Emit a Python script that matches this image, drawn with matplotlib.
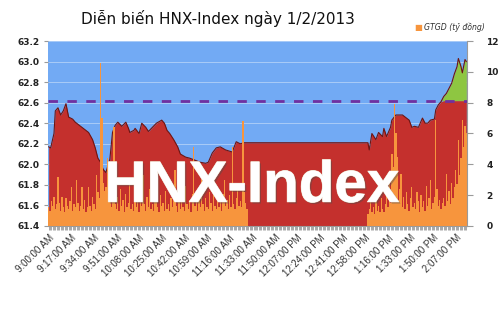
import numpy as np
import matplotlib.pyplot as plt
import matplotlib.patheffects as pe

# minute of the session (9:00 = 0), lunch break 150..239 has no trading
idx_minutes = [0, 1.5, 4, 5, 7, 9, 11, 13, 15, 18, 20, 23, 25, 28, 30, 33, 35, 37, 39, 41,
               43, 46, 48, 50, 52, 55, 58, 60, 61, 64, 65, 68, 70, 73, 75, 78, 81, 85, 87,
               89, 91, 94, 97, 99, 103, 106, 110, 114, 118, 120, 123, 126, 129, 133, 138,
               141, 144, 147, 149, 239, 240, 241, 243, 246, 248, 251, 252, 254, 257, 258,
               261, 263, 266, 269, 271, 273, 275, 278, 281, 283, 285, 287, 290, 291, 293,
               295, 297, 299, 301, 303, 305, 307, 308, 310, 311, 313, 314]
idx_values = [62.17, 62.16, 62.30, 62.52, 62.55, 62.48, 62.52, 62.59, 62.46, 62.44, 62.41,
              62.38, 62.36, 62.33, 62.31, 62.24, 62.16, 62.06, 62.02, 61.95, 61.92, 62.05,
              62.31, 62.38, 62.41, 62.37, 62.41, 62.35, 62.31, 62.33, 62.35, 62.30, 62.40,
              62.36, 62.32, 62.36, 62.40, 62.43, 62.40, 62.33, 62.30, 62.24, 62.17, 62.10,
              62.07, 62.06, 62.04, 62.02, 62.01, 62.02, 62.11, 62.16, 62.17, 62.14, 62.12,
              62.22, 62.20, 62.21, 62.21, 62.21, 62.21, 62.14, 62.30, 62.24, 62.31, 62.27,
              62.35, 62.27, 62.36, 62.43, 62.48, 62.48, 62.48, 62.45, 62.43, 62.36, 62.37,
              62.36, 62.45, 62.40, 62.40, 62.43, 62.44, 62.53, 62.58, 62.61, 62.66, 62.69,
              62.74, 62.79, 62.88, 62.95, 63.03, 62.95, 62.89, 63.02, 63.00]
ref_price = 62.62

vol_morning = [1.2, 1.0, 1.6, 1.3, 1.9, 1.1, 1.4, 3.2, 1.5, 1.0,
               1.9, 1.2, 0.9, 1.8, 1.3, 1.1, 1.6, 2.5, 1.0, 1.4,
               1.2, 3.0, 1.5, 1.0, 1.3, 2.5, 1.1, 1.7, 0.9, 1.2,
               2.5, 1.3, 1.0, 1.9, 1.4, 1.1, 3.3, 2.2, 1.8, 10.6,
               7.0, 2.8, 2.3, 2.5, 4.4, 2.0, 1.6, 1.2, 2.3, 6.4,
               1.4, 1.1, 1.9, 1.0, 2.4, 1.3, 1.7, 0.9, 2.1, 1.2,
               1.5, 2.8, 1.1, 1.4, 1.0, 2.2, 1.2, 1.6, 0.9, 1.8,
               1.3, 3.3, 1.4, 1.0, 1.9, 1.2, 2.4, 1.1, 1.4, 1.0,
               1.7, 2.8, 1.2, 0.9, 2.0, 1.3, 1.5, 1.0, 2.3, 1.1,
               1.4, 1.0, 1.8, 1.2, 2.5, 3.6, 1.3, 0.9, 1.6, 1.1,
               1.9, 1.2, 1.0, 2.6, 1.4, 1.1, 1.7, 0.9, 2.1, 5.1,
               1.3, 1.6, 1.0, 2.0, 1.2, 3.4, 1.4, 1.0, 1.8, 1.2,
               1.1, 2.2, 1.5, 1.0, 2.5, 1.3, 1.1, 1.9, 1.2, 1.6,
               1.0, 2.1, 3.0, 1.3, 1.7, 1.1, 2.0, 1.2, 5.1, 1.4,
               1.1, 1.8, 2.7, 1.3, 1.6, 1.2, 6.8, 2.2, 1.5, 1.1]
vol_lunch = [0.0] * 90
vol_afternoon = [0.8, 1.1, 1.9, 0.9, 1.2, 0.8, 1.8, 1.0, 1.3, 0.9,
                 1.8, 1.1, 0.9, 1.4, 2.1, 1.2, 2.7, 1.5, 4.7, 3.8,
                 7.9, 6.0, 4.5, 1.7, 2.4, 3.4, 1.2, 1.9, 1.1, 2.2,
                 1.4, 1.0, 1.8, 2.5, 1.2, 1.5, 1.1, 2.2, 1.6, 0.9,
                 2.0, 1.2, 1.6, 1.0, 2.6, 1.3, 1.8, 3.0, 1.1, 1.5,
                 1.9, 6.9, 2.4, 1.3, 1.7, 1.1, 1.5, 1.8, 1.3, 3.4,
                 1.6, 2.3, 1.4, 2.8, 1.8, 2.5, 3.6, 2.7, 5.6, 3.3,
                 4.4, 6.9, 5.1, 6.5, 6.0]
volume = vol_morning + vol_lunch + vol_afternoon

tick_labels = ["9:00:00 AM", "9:17:00 AM", "9:34:00 AM", "9:51:00 AM", "10:08:00 AM",
               "10:25:00 AM", "10:42:00 AM", "10:59:00 AM", "11:16:00 AM", "11:33:00 AM",
               "11:50:00 AM", "12:07:00 PM", "12:24:00 PM", "12:41:00 PM", "12:58:00 PM",
               "1:16:00 PM", "1:33:00 PM", "1:50:00 PM", "2:07:00 PM"]

blue = '#72AAF4'
red = '#C4302D'
orange = '#F7953D'
green = '#8EC641'

x = np.array(idx_minutes)
y = np.array(idx_values)
n = len(volume)

fig = plt.figure(figsize=(5, 3.13), dpi=100)
ax = fig.add_axes([0.096, 0.278, 0.838, 0.591])
ax.set_facecolor(blue)
ax.set_xlim(-0.5, n - 0.5)
ax.set_ylim(61.4, 63.2)
ax.set_yticks(np.arange(61.4, 63.21, 0.2))
ax.set_yticklabels(['%.1f' % v for v in np.arange(61.4, 63.21, 0.2)])
ax.yaxis.grid(True, color='#A9CCF8', lw=0.7)
ax.set_axisbelow(True)

ax.fill_between(x, 61.4, np.minimum(y, ref_price), color=red, lw=0, zorder=2)
ax.fill_between(x, ref_price, y, where=y >= ref_price, interpolate=True,
                color=green, lw=0, zorder=2)
ax.plot(x, y, color='#6E1512', lw=0.8, zorder=3)

ax2 = ax.twinx()
ax2.set_ylim(0, 12)
ax2.set_yticks(range(0, 13, 2))
ax2.bar(range(n), volume, width=1.0, color=orange, lw=0, zorder=2)
ax2.plot([-0.5, n - 0.5], [ref_price, ref_price], transform=ax.transData,
         color='#7030A0', lw=2, dashes=(3.4, 3.4), zorder=4)

for a in (ax, ax2):
    for s in a.spines.values():
        s.set_visible(False)
ax.spines['bottom'].set_visible(True)
ax.spines['bottom'].set_color('#9A9A9A')
ax2.spines['right'].set_visible(True)
ax2.spines['right'].set_color('#9A9A9A')

ax.set_xticks(range(0, n, 17))
ax.set_xticks(range(n), minor=True)
ax.set_xticklabels(tick_labels, rotation=45, ha='right', rotation_mode='anchor',
                   fontsize=7, family='Liberation Sans', color='#333333')
ax.tick_params(axis='x', which='both', length=3, color='#9A9A9A', width=0.6, pad=2)
ax.tick_params(axis='y', length=3, color='#9A9A9A', labelsize=6.5, pad=3)
ax2.tick_params(axis='y', length=4, color='#9A9A9A', labelsize=6.5, pad=10)
for lab in ax.get_yticklabels() + ax2.get_yticklabels():
    lab.set_fontweight('bold')
    lab.set_color('#222222')

fig.text(0.436, 0.94, 'Diễn biến HNX-Index ngày 1/2/2013', ha='center', va='center',
         fontsize=11, color='#111111')
fig.text(0.836, 0.912, '■', ha='center', va='center', fontsize=6, color=orange)
fig.text(0.848, 0.912, 'GTGD (tỷ đồng)', ha='left', va='center', fontsize=5.6,
         style='italic', color='#333333')

wm = fig.text(0.504, 0.355, 'HNX-Index', ha='center', va='baseline', fontsize=42,
              family='Liberation Sans', fontweight='bold', color='white', zorder=10)
wm.set_path_effects([pe.withSimplePatchShadow(offset=(1.2, -1.2), alpha=0.45),
                     pe.Stroke(linewidth=0.6, foreground='#E8D6C0'), pe.Normal()])

plt.savefig('out.png', dpi=100)
